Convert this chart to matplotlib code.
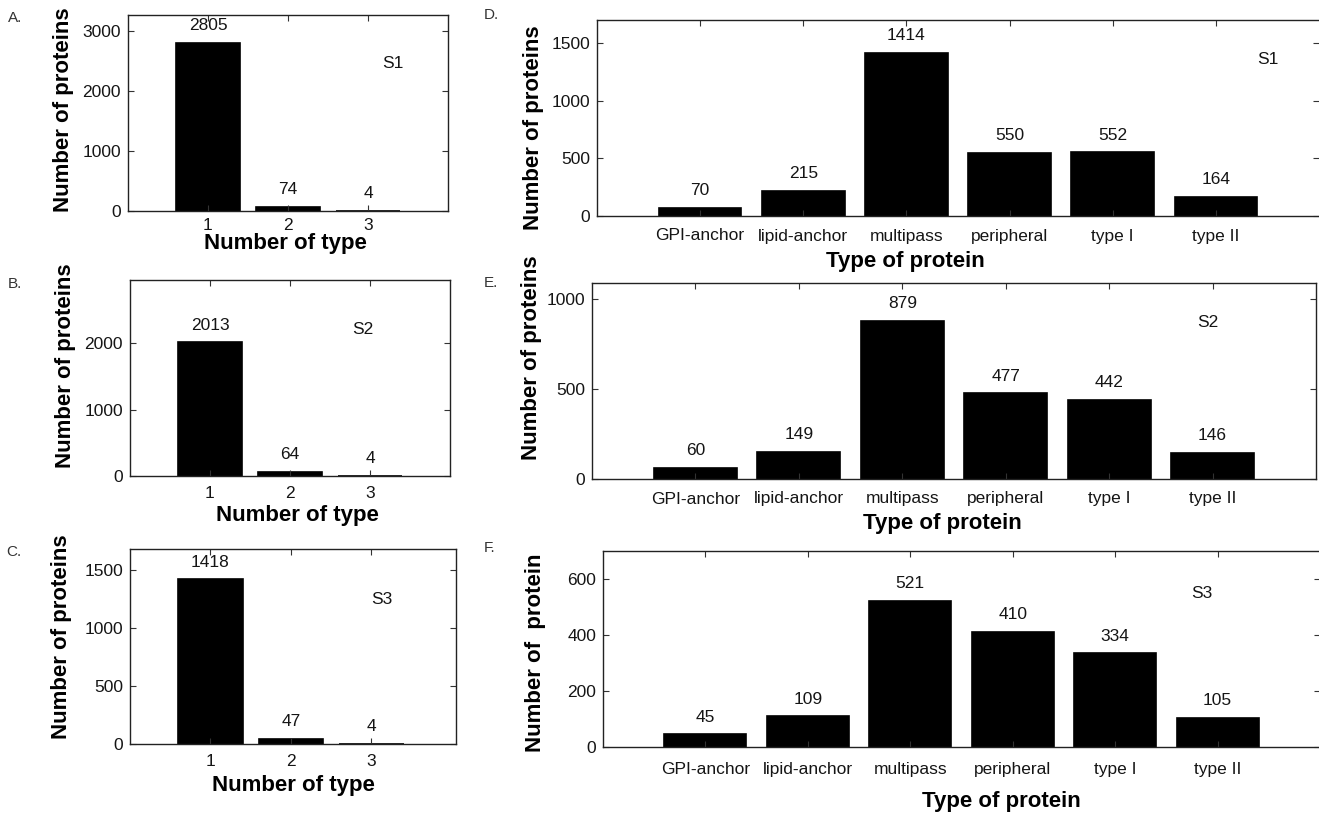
import matplotlib.pyplot as plt
import numpy as np

plt.rcParams['font.family'] = ['Liberation Sans', 'DejaVu Sans']
plt.rcParams['text.color'] = '#151515'
plt.rcParams['xtick.color'] = '#333333'
plt.rcParams['ytick.color'] = '#333333'
plt.rcParams['xtick.labelcolor'] = '#151515'
plt.rcParams['ytick.labelcolor'] = '#151515'

W, H = 1319, 816

# left column: number of proteins by number of types
n_types = [1, 2, 3]
s1_counts = [2805, 74, 4]
s2_counts = [2013, 64, 4]
s3_counts = [1418, 47, 4]

# right column: number of proteins by type
protein_types = ['GPI-anchor', 'lipid-anchor', 'multipass', 'peripheral', 'type I', 'type II']
s1_types = [70, 215, 1414, 550, 552, 164]
s2_types = [60, 149, 879, 477, 442, 146]
s3_types = [45, 109, 521, 410, 334, 105]

fig = plt.figure(figsize=(W / 100, H / 100), dpi=100)


def fpos(x, y):
    # pixel -> figure fraction
    return x / W, 1 - y / H


def panel(box, labels, vals, xlim, ylim, yticks, letter, letter_xy, tag, tag_xy,
          ylab, ylab_xy, xlab, xlab_xy, xpad, right_spine=True):
    left, top, right, bottom = box
    ax = fig.add_axes([left / W, 1 - bottom / H, (right - left) / W, (bottom - top) / H])
    x = np.arange(1, len(vals) + 1)
    # edge line keeps the tiny bars (value 4) visible like the original
    ax.bar(x, vals, width=0.8, color='black', edgecolor='black', linewidth=1.2)
    for xi, v in zip(x, vals):
        ax.annotate(str(v), (xi, v), xytext=(0, 7), textcoords='offset points',
                    ha='center', va='bottom', fontsize=12.5)
    ax.set_xlim(*xlim)
    ax.set_ylim(0, ylim)
    ax.set_yticks(yticks)
    ax.set_xticks(x)
    ax.set_xticklabels(labels)
    ax.tick_params(direction='in', length=4, width=0.8, top=True, right=True,
                   labelsize=12.5)
    ax.tick_params(axis='x', pad=xpad)
    ax.tick_params(axis='y', pad=5)
    for s in ax.spines.values():
        s.set_linewidth(1.0)
        s.set_color('#222222')
    ax.spines['right'].set_visible(right_spine)
    ax.set_ylabel(ylab, fontsize=16, fontweight='bold', va='center', ha='center')
    ax.yaxis.set_label_coords(*fpos(*ylab_xy), transform=fig.transFigure)
    ax.set_xlabel(xlab, fontsize=16, fontweight='bold', va='center', ha='center')
    ax.xaxis.set_label_coords(*fpos(*xlab_xy), transform=fig.transFigure)
    fig.text(*fpos(*letter_xy), letter, fontsize=11, color='#333333', ha='left', va='center')
    fig.text(*fpos(*tag_xy), tag, fontsize=12.5, ha='center', va='center')
    return ax


panel((128, 15, 448, 211), n_types, s1_counts, (0, 4), 3270, [0, 1000, 2000, 3000],
      'A.', (8, 18), 'S1', (393, 63), 'Number of proteins', (63, 110),
      'Number of type', (285, 244), 5)
panel((130, 280, 450, 476), n_types, s2_counts, (0, 4), 2950, [0, 1000, 2000],
      'B.', (8, 284), 'S2', (363, 329), 'Number of proteins', (65, 366),
      'Number of type', (297, 515), 7)
panel((130, 549, 456, 744), n_types, s3_counts, (0, 4.05), 1680, [0, 500, 1000, 1500],
      'C.', (6, 552), 'S3', (382, 600), 'Number of proteins', (61, 637),
      'Number of type', (293, 786), 7)

panel((597, 20, 1319, 216), protein_types, s1_types, (0, 7), 1700, [0, 500, 1000, 1500],
      'D.', (484, 15), 'S1', (1268, 60), 'Number of proteins', (533, 128),
      'Type of protein', (905, 262), 9, right_spine=False)
panel((592, 283, 1316, 479), protein_types, s2_types, (0, 7), 1090, [0, 500, 1000],
      'E.', (484, 283), 'S2', (1208, 323), 'Number of proteins', (531, 358),
      'Type of protein', (942, 523), 9)
panel((603, 551, 1320, 747), protein_types, s3_types, (0, 7), 700, [0, 200, 400, 600],
      'F.', (484, 548), 'S3', (1202, 593), 'Number of  protein', (535, 653),
      'Type of protein', (1001, 801), 11, right_spine=False)

fig.savefig('out.png', dpi=100)
